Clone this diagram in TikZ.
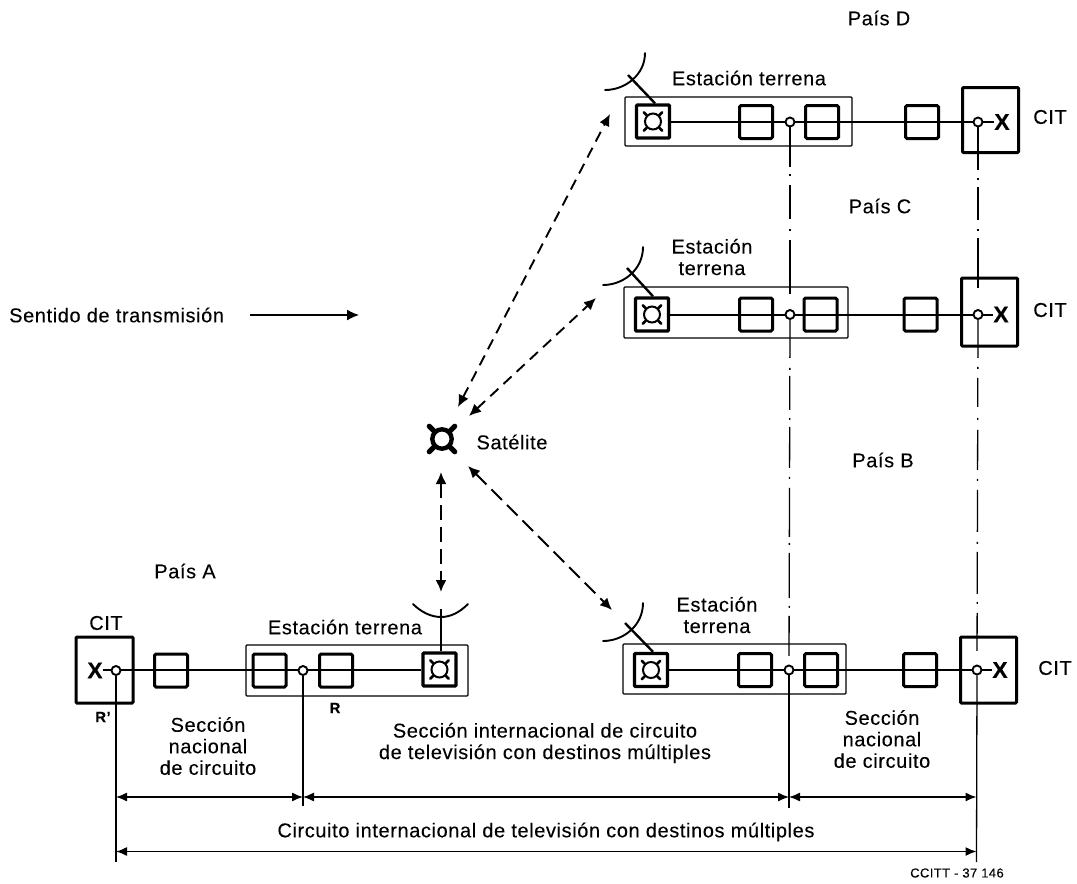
\documentclass[tikz,border=0pt]{standalone}
\usepackage{fontspec}
\setmainfont{Liberation Sans}[LetterSpace=3,FakeBold=0.12]
\usetikzlibrary{arrows.meta}
\tikzset{
  lbl/.style={inner sep=0pt,align=center,font=\fontsize{20}{21.5}\selectfont},
  smalllbl/.style={inner sep=0pt,font=\fontsize{15}{15}\selectfont\bfseries},
  station/.style={draw,line width=1.2pt,rounded corners=1pt,inner sep=0pt},
  unit/.style={draw,line width=3pt,rounded corners=1.5pt,inner sep=0pt,minimum width=33pt,minimum height=33pt},
  dishbox/.style={draw,line width=3.4pt,rounded corners=1pt,inner sep=0pt,minimum width=33pt,minimum height=33pt},
  cit/.style={draw,line width=3pt,rounded corners=1pt,inner sep=0pt,minimum width=56pt,minimum height=65pt},
  tap/.style={circle,draw,fill=white,line width=1.9pt,inner sep=0pt,minimum size=9pt},
  xmark/.style={inner sep=0pt,font=\fontsize{23}{23}\selectfont\bfseries},
  mainline/.style={line width=2pt},
  feed/.style={line width=2.4pt},
  dishcurve/.style={line width=1.9pt,line cap=round},
  thin/.style={line width=1.3pt},
  link/.style={line width=1.9pt,{Latex[length=12pt,width=11pt]}-{Latex[length=12pt,width=11pt]},dash pattern=on 11pt off 7pt},
  dimline/.style={line width=1.3pt,{Latex[length=11pt,width=9pt]}-{Latex[length=11pt,width=9pt]}},
  sym/.pic={
    \draw[line width=2pt] (0,0) circle (8);
    \foreach \a/\b in {1/1,1/-1,-1/1,-1/-1}
      \draw[line width=2.6pt,line cap=round] (\a*6.3,\b*6.3) -- (\a*9.3,\b*9.3);
  },
  bigsym/.pic={
    \draw[line width=4.4pt] (0,0) circle (9.7);
    \foreach \a/\b in {1/1,1/-1,-1/1,-1/-1}
      \draw[line width=5pt,line cap=round] (\a*7.5,\b*7.5) -- (\a*12.8,\b*12.8);
  }
}
\begin{document}
\begin{tikzpicture}[x=1pt,y=-1pt]
\fill[white] (0,0) rectangle (1077,884);
\useasboundingbox (0,0) rectangle (1077,884);

% ---- Pais D
\node[station,minimum width=227pt,minimum height=49pt] (stD) at (738.5,121.5) {};
\node[dishbox] (dishD) at (653,121.5) {};
\node[unit] (d1) at (756,122) {};
\node[unit] (d2) at (822,122) {};
\node[unit] (d3) at (922,122) {};
\node[cit] (citD) at (990.5,120) {};
\node[xmark] (xD) at (1002,122) {X};
\draw[mainline] (dishD.east) -- (xD.west |- dishD.east);
\node[tap] (cD) at (790,122) {};
\node[tap] (kD) at (978,122) {};
\pic at (653,121.5) {sym};
\draw[feed] (dishD.north) ++(2,0) -- (628,75);
\draw[dishcurve] (605,90) .. controls (625,90) and (645,75) .. (645,53);

% ---- Pais C
\node[station,minimum width=224pt,minimum height=51pt] (stC) at (736,312.5) {};
\node[dishbox] (dishC) at (652,314.5) {};
\node[unit] (c1) at (756,314.5) {};
\node[unit] (c2) at (820.5,314.5) {};
\node[unit] (c3) at (920.5,314.5) {};
\node[cit,minimum height=68pt] (citC) at (989.5,312) {};
\node[xmark] (xC) at (1001,314.5) {X};
\draw[mainline] (dishC.east) -- (xC.west |- dishC.east);
\node[tap] (cC) at (790,314.5) {};
\node[tap] (kC) at (978,314.5) {};
\pic at (652,314.5) {sym};
\draw[feed] (dishC.north) ++(1,0) -- (627,268);
\draw[dishcurve] (603,285) .. controls (623,285) and (643,270) .. (643,247);

% ---- Pais B
\node[station,minimum width=223pt,minimum height=50pt] (stB) at (734.5,669) {};
\node[dishbox] (dishB) at (651,670) {};
\node[unit] (b1) at (755,670) {};
\node[unit] (b2) at (821,670) {};
\node[unit] (b3) at (920,670) {};
\node[cit,minimum height=66pt] (citB) at (988.5,670) {};
\node[xmark] (xB) at (1000,670) {X};
\draw[mainline] (dishB.east) -- (xB.west |- dishB.east);
\node[tap] (cB) at (789,670) {};
\node[tap] (kB) at (977,670) {};
\pic at (651,670) {sym};
\draw[feed] (dishB.north) ++(2,0) -- (625,623);
\draw[dishcurve] (603,641) .. controls (623,641) and (643,626) .. (643,603);

% ---- Pais A
\node[station,minimum width=222pt,minimum height=51pt] (stA) at (357,670.5) {};
\node[dishbox] (dishA) at (439.5,669.5) {};
\node[unit] (a1) at (171,670.5) {};
\node[unit] (a2) at (269.5,670.5) {};
\node[unit] (a3) at (336,670.5) {};
\node[cit,minimum width=57pt,minimum height=66pt] (citA) at (104.5,670) {};
\node[xmark] (xA) at (95,670.5) {X};
\draw[mainline] (xA.east |- dishA.west) -- (dishA.west);
\node[tap] (cA) at (116,670.5) {};
\node[tap] (rA) at (303,670.5) {};
\pic at (439.5,669.5) {sym};
\draw[feed] (dishA.north) ++(1.5,0) -- (441,609);
\draw[dishcurve] (413,604) .. controls (421,612) and (431,617) .. (441,617) .. controls (451,617) and (460,612) .. (468,604);

% ---- Vertical dash-dot lines
\draw[thin,dash pattern=on 40pt off 7pt on 2pt off 9pt on 34pt off 10pt on 2pt off 9pt on 54pt off 30pt] (cD.south) -- (cC.north);
\draw[thin,dash pattern=on 43pt off 8pt on 2pt off 7pt on 33pt off 9pt on 2pt off 7pt on 50pt off 30pt] (kD.south) -- (kC.north);
\draw[thin,dash pattern=on 38pt off 10pt on 2pt off 6pt on 34pt off 8pt on 2pt off 7pt on 41pt off 9pt on 2pt off 9pt on 49pt off 6pt on 2pt off 8pt on 45pt off 8pt on 2pt off 8pt on 40pt off 30pt] (cC.south) -- (cB.north);
\draw[thin,dash pattern=on 38pt off 9pt on 2pt off 9pt on 29pt off 11pt on 2pt off 10pt on 40pt off 9pt on 2pt off 9pt on 42pt off 10pt on 2pt off 8pt on 42pt off 8pt on 2pt off 9pt on 38pt off 30pt] (kC.south) -- (kB.north);

% ---- Satellite and links
\coordinate (sat) at (442,439);
\pic at (sat) {bigsym};
\coordinate (tD) at (610,114);
\coordinate (sD) at (458,407);
\coordinate (tC) at (596,298);
\coordinate (sC) at (469,416);
\coordinate (tB) at (612,610);
\coordinate (sB) at (468,466);
\coordinate (tA) at (441,592);
\coordinate (sA) at (441,472);
\draw[link] (sD) -- (tD);
\draw[link] (sC) -- (tC);
\draw[link,dash pattern=on 15pt off 7pt] (sB) -- (tB);
\draw[link,dash pattern=on 15pt off 7pt] (sA) -- (tA);

% ---- Direction arrow
\node[lbl,anchor=west] (sent) at (9,315) {Sentido de transmisión};
\coordinate (dirs) at (250,315);
\coordinate (dire) at (359,315);
\draw[line width=1.3pt,-{Latex[length=12pt,width=11pt]}] (dirs) -- (dire);

% ---- Dimension lines
\coordinate (e1) at (116,862);
\coordinate (e2) at (303,806);
\coordinate (e3) at (789,808);
\coordinate (e4) at (976.5,862);
\draw[thin] (cA.south) -- (e1);
\draw[thin] (rA.south) -- (e2);
\draw[thin] (cB.south) -- (e3);
\draw[thin] (kB.south) -- (e4);
\coordinate (p1) at (116,797);
\coordinate (p2) at (303,797);
\coordinate (p3) at (789,797);
\coordinate (p4) at (976.5,797);
\coordinate (q1) at (116,851.5);
\coordinate (q2) at (976.5,851.5);
\draw[dimline] (p1) -- (p2);
\draw[dimline] (p2) -- (p3);
\draw[dimline] (p3) -- (p4);
\draw[dimline] (q1) -- (q2);

% ---- Labels
\node[lbl] (lD) at (879,18) {País D};
\node[lbl] (lC) at (880,206) {País C};
\node[lbl] (lB) at (883,460) {País B};
\node[lbl] (lA) at (185,571) {País A};
\node[lbl] (eD) at (749,78) {Estación terrena};
\node[lbl] (eC) at (712,257) {Estación\\terrena};
\node[lbl] (eB) at (717,615) {Estación\\terrena};
\node[lbl] (eA) at (345,627) {Estación terrena};
\node[lbl] (kitD) at (1050,117) {CIT};
\node[lbl] (kitC) at (1050,310) {CIT};
\node[lbl] (kitB) at (1055,668) {CIT};
\node[lbl] (kitA) at (106,623) {CIT};
\node[lbl] (sattxt) at (512,442) {Satélite};
\node[smalllbl] (rp) at (103,717) {R'};
\node[smalllbl] (rr) at (335,708) {R};
\node[lbl] (snl) at (208,746) {Sección\\nacional\\de circuito};
\node[lbl] (snr) at (882,739) {Sección\\nacional\\de circuito};
\node[lbl] (sint) at (545,743) {Sección internacional de circuito\\de televisión con destinos múltiples};
\node[lbl] (cint) at (546,832) {Circuito internacional de televisión con destinos múltiples};
\node[inner sep=0pt,font=\fontsize{13}{15}\selectfont] (ref) at (957,873) {CCITT - 37 146};
\end{tikzpicture}
\end{document}
